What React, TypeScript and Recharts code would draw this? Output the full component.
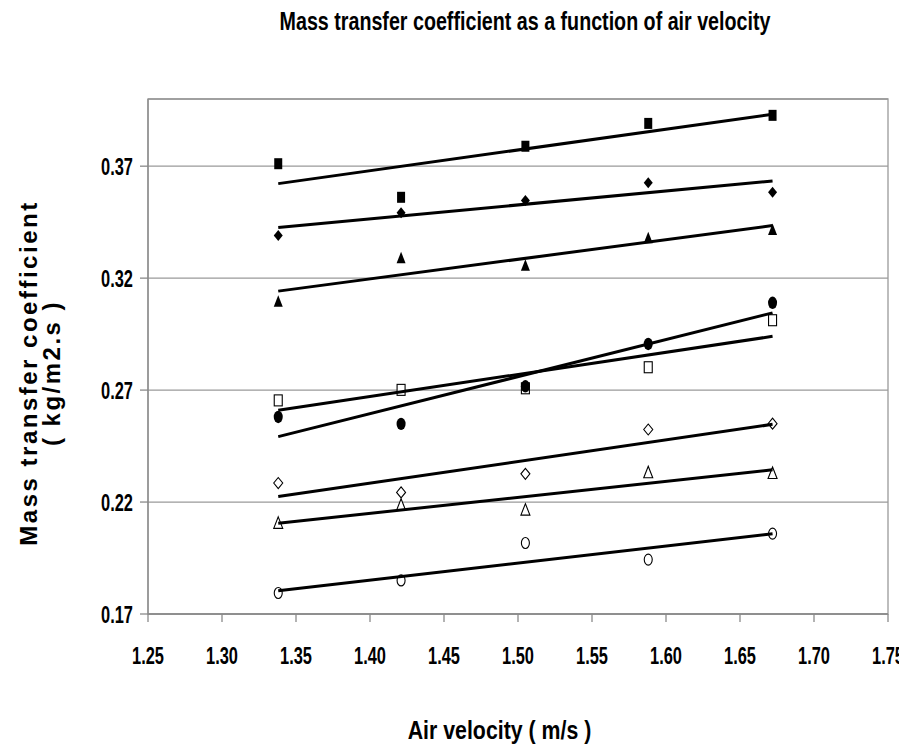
import React from "react";
import {
  ScatterChart,
  Scatter,
  XAxis,
  YAxis,
  CartesianGrid,
  ReferenceArea,
} from "recharts";

// ---- data ----
const velocity = [1.338, 1.421, 1.505, 1.588, 1.672];
const filledSquare = [0.3711, 0.3561, 0.3789, 0.3891, 0.3927];
const filledDiamond = [0.339, 0.3492, 0.3547, 0.3626, 0.3584];
const filledTriangle = [0.3097, 0.3291, 0.3258, 0.338, 0.3417];
const filledCircle = [0.258, 0.2549, 0.2717, 0.2906, 0.309];
const openSquare = [0.2654, 0.2701, 0.2708, 0.2802, 0.3012];
const openDiamond = [0.2285, 0.2243, 0.2326, 0.2524, 0.255];
const openTriangle = [0.2107, 0.2188, 0.2166, 0.2333, 0.233];
const openCircle = [0.1794, 0.185, 0.2017, 0.1943, 0.2059];

// trendline end points (first and last velocity)
const trendX = [1.338, 1.672];
const trendFilledSquare = [0.3622, 0.3932];
const trendFilledDiamond = [0.3426, 0.3634];
const trendFilledTriangle = [0.3142, 0.3435];
const trendFilledCircle = [0.2492, 0.3045];
const trendOpenSquare = [0.261, 0.294];
const trendOpenDiamond = [0.2225, 0.2547];
const trendOpenTriangle = [0.2105, 0.2344];
const trendOpenCircle = [0.1804, 0.2058];

const xTicks = [1.25, 1.3, 1.35, 1.4, 1.45, 1.5, 1.55, 1.6, 1.65, 1.7, 1.75];
const yTicks = [0.17, 0.22, 0.27, 0.32, 0.37];

const title = "Mass transfer coefficient as a function of air velocity";
const xTitle = "Air velocity ( m/s )";
const yTitle1 = "Mass transfer coefficient";
const yTitle2 = "( kg/m2.s )";

const FONT = "'Liberation Sans', Arial, sans-serif";

const toPoints = (ys: number[]) => ys.map((y, i) => ({ x: velocity[i], y }));
const toTrend = (ys: number[]) => ys.map((y, i) => ({ x: trendX[i], y }));

type Kind =
  | "fsquare"
  | "fdiamond"
  | "ftriangle"
  | "fcircle"
  | "osquare"
  | "odiamond"
  | "otriangle"
  | "ocircle";

const makeShape = (kind: Kind) => (props: any) => {
  const { cx, cy } = props;
  if (cx == null || cy == null) return <g />;
  const filled = kind.startsWith("f");
  const fill = filled ? "#000" : "#fff";
  const stroke = "#000";
  const sw = filled ? 0 : 1.1;
  const w = 4;
  const h = 5.5;
  switch (kind.slice(1)) {
    case "square":
      return (
        <rect
          x={cx - w}
          y={cy - h}
          width={w * 2}
          height={h * 2}
          fill={fill}
          stroke={stroke}
          strokeWidth={sw}
        />
      );
    case "diamond":
      return (
        <polygon
          points={`${cx},${cy - h} ${cx + w + 0.5},${cy} ${cx},${cy + h} ${cx - w - 0.5},${cy}`}
          fill={fill}
          stroke={stroke}
          strokeWidth={sw}
        />
      );
    case "triangle":
      return (
        <polygon
          points={`${cx},${cy - h - 0.5} ${cx + w + 0.5},${cy + h} ${cx - w - 0.5},${cy + h}`}
          fill={fill}
          stroke={stroke}
          strokeWidth={sw}
        />
      );
    default:
      return (
        <ellipse
          cx={cx}
          cy={cy}
          rx={filled ? 4.5 : 4}
          ry={filled ? 6.2 : 5.5}
          fill={fill}
          stroke={stroke}
          strokeWidth={sw}
        />
      );
  }
};

const NarrowText = ({
  x,
  y,
  size,
  sy = 1,
  anchor = "middle",
  children,
}: {
  x: number;
  y: number;
  size: number;
  sy?: number;
  anchor?: string;
  children: React.ReactNode;
}) => (
  <g transform={`translate(${x},${y}) scale(0.82,${sy})`}>
    <text
      x={0}
      y={0}
      textAnchor={anchor as any}
      fontFamily={FONT}
      fontWeight="bold"
      fontSize={size}
      fill="#000"
    >
      {children}
    </text>
  </g>
);

const XTick = (props: any) => {
  const { x, y, payload } = props;
  return (
    <NarrowText x={x} y={y + 38} size={20} sy={1.2}>
      {Number(payload.value).toFixed(2)}
    </NarrowText>
  );
};

const YTick = (props: any) => {
  const { x, y, payload } = props;
  return (
    <NarrowText x={x} y={y + 8.5} size={20} sy={1.2} anchor="end">
      {Number(payload.value).toFixed(2)}
    </NarrowText>
  );
};

const markerSeries: { name: string; data: number[]; kind: Kind }[] = [
  { name: "open circle", data: openCircle, kind: "ocircle" },
  { name: "open triangle", data: openTriangle, kind: "otriangle" },
  { name: "open diamond", data: openDiamond, kind: "odiamond" },
  { name: "open square", data: openSquare, kind: "osquare" },
  { name: "filled circle", data: filledCircle, kind: "fcircle" },
  { name: "filled triangle", data: filledTriangle, kind: "ftriangle" },
  { name: "filled diamond", data: filledDiamond, kind: "fdiamond" },
  { name: "filled square", data: filledSquare, kind: "fsquare" },
];

const trendSeries: { name: string; data: number[] }[] = [
  { name: "trend filled square", data: trendFilledSquare },
  { name: "trend filled diamond", data: trendFilledDiamond },
  { name: "trend filled triangle", data: trendFilledTriangle },
  { name: "trend filled circle", data: trendFilledCircle },
  { name: "trend open square", data: trendOpenSquare },
  { name: "trend open diamond", data: trendOpenDiamond },
  { name: "trend open triangle", data: trendOpenTriangle },
  { name: "trend open circle", data: trendOpenCircle },
];

const W = 899;
const H = 743;

export default function App() {
  return (
    <div style={{ position: "relative", width: W, height: H, background: "#fff" }}>
      <ScatterChart
        width={W}
        height={H}
        margin={{ top: 91, right: 19, left: 0, bottom: 87 }}
      >
        <CartesianGrid vertical={false} stroke="#9a9a9a" strokeWidth={1.3} />
        <ReferenceArea
          x1={1.25}
          x2={1.75}
          y1={0.17}
          y2={0.4}
          fill="none"
          stroke="#9a9a9a"
          strokeWidth={1.3}
          ifOverflow="visible"
        />
        <XAxis
          type="number"
          dataKey="x"
          domain={[1.25, 1.75]}
          ticks={xTicks}
          allowDataOverflow
          height={50}
          stroke="#8a8a8a"
          strokeWidth={1.3}
          tickSize={8}
          tickMargin={4}
          tick={<XTick />}
          interval={0}
        />
        <YAxis
          type="number"
          dataKey="y"
          domain={[0.17, 0.4]}
          ticks={yTicks}
          allowDataOverflow
          width={140}
          stroke="#8a8a8a"
          strokeWidth={1.3}
          tickSize={8}
          tickMargin={7}
          tick={<YTick />}
          interval={0}
        />
        {markerSeries.map((s) => (
          <Scatter
            key={s.name}
            name={s.name}
            data={toPoints(s.data)}
            shape={makeShape(s.kind)}
            isAnimationActive={false}
            legendType="none"
          />
        ))}
        {trendSeries.map((s) => (
          <Scatter
            key={s.name}
            name={s.name}
            data={toTrend(s.data)}
            line={{ stroke: "#000", strokeWidth: 3 }}
            shape={() => <g />}
            isAnimationActive={false}
            legendType="none"
          />
        ))}
      </ScatterChart>
      <svg
        width={W}
        height={H}
        style={{ position: "absolute", left: 0, top: 0, pointerEvents: "none" }}
      >
        <NarrowText x={517} y={22} size={24} sy={1.06}>
          {title}
        </NarrowText>
        <NarrowText x={491.5} y={731} size={26}>
          {xTitle}
        </NarrowText>
        <g transform="translate(29,365) rotate(-90)">
          <text
            x={0}
            y={0}
            textAnchor="middle"
            fontFamily={FONT}
            fontWeight="bold"
            fontSize={24}
            letterSpacing={2.5}
            fill="#000"
          >
            {yTitle1}
          </text>
        </g>
        <g transform="translate(52,365) rotate(-90)">
          <text
            x={0}
            y={0}
            textAnchor="middle"
            fontFamily={FONT}
            fontWeight="bold"
            fontSize={24}
            letterSpacing={2.5}
            fill="#000"
          >
            {yTitle2}
          </text>
        </g>
      </svg>
    </div>
  );
}
